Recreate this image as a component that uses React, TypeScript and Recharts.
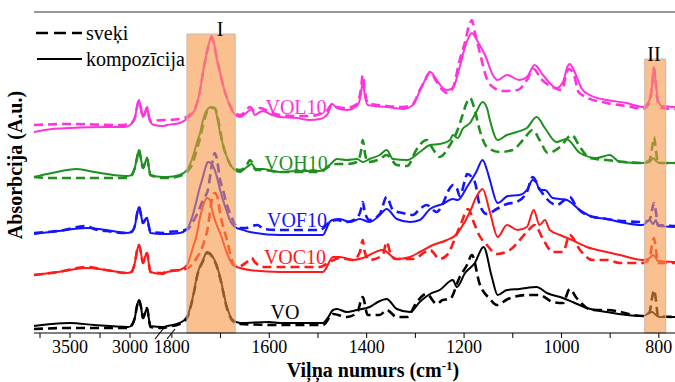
import { LineChart, Line, XAxis, YAxis, ReferenceArea, ReferenceLine } from 'recharts'

type Pt = [number, number] // [wavenumber cm-1, absorbance]

// broken axis: 3800-2725 on the left, 1810-767 on the right
const pos = (wn: number) => (wn >= 2000 ? (3800 - wn) * 0.12 : 133 + (1810 - wn) * 0.487)

const tickWns = [3750, 3500, 3250, 3000, 1800, 1700, 1600, 1500, 1400, 1300, 1200, 1100, 1000, 900, 800]
const tickLabels = ['', '3500', '', '3000', '1800', '', '1600', '', '1400', '', '1200', '', '1000', '', '800']

const volComp: Pt[] = [
  [3800, 2.01], [3650, 2.04], [3500, 2.05], [3200, 2.06], [3050, 2.06], [3000, 2.08], [2960, 2.15], [2940, 2.27],
  [2925, 2.33], [2910, 2.25], [2892, 2.16], [2875, 2.2], [2858, 2.26], [2845, 2.18], [2830, 2.11], [2800, 2.08], [2725, 2.07],
  [1810, 2.08], [1784, 2.1], [1767, 2.15], [1753, 2.23], [1742, 2.43], [1736, 2.61], [1728, 2.81], [1722, 2.93], [1718, 2.97],
  [1714, 2.91], [1708, 2.75], [1701, 2.6], [1695, 2.48], [1687, 2.35], [1681, 2.27], [1673, 2.2], [1660, 2.16], [1650, 2.19],
  [1640, 2.23], [1636, 2.24], [1630, 2.18], [1619, 2.21], [1613, 2.22], [1599, 2.19], [1578, 2.16], [1543, 2.15], [1517, 2.13],
  [1496, 2.14], [1480, 2.19], [1471, 2.29], [1461, 2.25], [1441, 2.23], [1420, 2.27], [1412, 2.38], [1408, 2.51], [1404, 2.38],
  [1398, 2.28], [1359, 2.26], [1326, 2.24], [1305, 2.28], [1291, 2.42], [1280, 2.53], [1270, 2.61], [1256, 2.53], [1244, 2.45],
  [1235, 2.43], [1223, 2.45], [1209, 2.66], [1198, 2.86], [1188, 2.98], [1184, 3.0], [1176, 2.95], [1168, 2.88], [1157, 2.78],
  [1141, 2.58], [1131, 2.53], [1112, 2.58], [1086, 2.53], [1071, 2.56], [1055, 2.68], [1038, 2.58], [1010, 2.45], [997, 2.51],
  [987, 2.67], [983, 2.69], [973, 2.61], [958, 2.44], [942, 2.38], [907, 2.33], [866, 2.3], [833, 2.26], [819, 2.33],
  [814, 2.48], [810, 2.66], [806, 2.48], [802, 2.33], [794, 2.27], [767, 2.26],
]
const volResin: Pt[] = [
  [3800, 2.08], [3500, 2.09], [3100, 2.08], [3000, 2.09], [2960, 2.15], [2940, 2.27], [2925, 2.32], [2910, 2.25], [2892, 2.16],
  [2875, 2.2], [2858, 2.25], [2845, 2.18], [2830, 2.12], [2725, 2.13],
  [1810, 2.13], [1784, 2.14], [1767, 2.17], [1753, 2.24], [1742, 2.43], [1736, 2.61], [1728, 2.81], [1722, 2.92], [1718, 2.95],
  [1714, 2.9], [1708, 2.75], [1701, 2.6], [1695, 2.48], [1687, 2.35], [1681, 2.28], [1673, 2.21], [1660, 2.18], [1650, 2.21],
  [1640, 2.26], [1630, 2.22], [1619, 2.25], [1599, 2.21], [1578, 2.18], [1543, 2.17], [1517, 2.17], [1496, 2.19], [1480, 2.23],
  [1471, 2.29], [1461, 2.26], [1441, 2.25], [1420, 2.29], [1412, 2.43], [1408, 2.58], [1404, 2.43], [1398, 2.3], [1359, 2.27],
  [1326, 2.26], [1305, 2.29], [1291, 2.43], [1280, 2.53], [1270, 2.61], [1256, 2.51], [1244, 2.43], [1235, 2.4], [1223, 2.45],
  [1209, 2.73], [1198, 2.91], [1190, 3.07], [1184, 3.13], [1178, 3.01], [1168, 2.81], [1153, 2.54], [1141, 2.46], [1120, 2.42],
  [1090, 2.43], [1071, 2.53], [1057, 2.64], [1042, 2.54], [1018, 2.46], [999, 2.43], [989, 2.61], [985, 2.64], [975, 2.59],
  [965, 2.41], [950, 2.36], [907, 2.3], [866, 2.27], [833, 2.24], [819, 2.31], [814, 2.47], [810, 2.65], [806, 2.47],
  [802, 2.31], [794, 2.25], [767, 2.24],
]

const vohComp: Pt[] = [
  [3800, 1.56], [3650, 1.6], [3442, 1.64], [3300, 1.61], [3142, 1.58], [3017, 1.57], [2990, 1.58], [2960, 1.65], [2940, 1.76],
  [2925, 1.83], [2910, 1.75], [2892, 1.65], [2875, 1.7], [2858, 1.75], [2845, 1.67], [2830, 1.58], [2725, 1.56],
  [1810, 1.56], [1784, 1.58], [1769, 1.63], [1757, 1.76], [1747, 1.93], [1742, 2.0], [1736, 2.13], [1728, 2.23], [1720, 2.26],
  [1712, 2.25], [1708, 2.18], [1701, 2.0], [1695, 1.88], [1687, 1.76], [1675, 1.65], [1660, 1.61], [1646, 1.66], [1636, 1.69],
  [1628, 1.64], [1613, 1.64], [1578, 1.61], [1543, 1.62], [1496, 1.62], [1476, 1.68], [1461, 1.74], [1441, 1.73], [1420, 1.74],
  [1408, 1.71], [1394, 1.74], [1373, 1.78], [1359, 1.83], [1346, 1.74], [1317, 1.73], [1291, 1.81], [1270, 1.88], [1250, 1.89],
  [1229, 1.93], [1223, 1.98], [1213, 1.95], [1203, 2.04], [1188, 2.1], [1175, 2.21], [1162, 2.31], [1153, 2.25], [1147, 2.13],
  [1131, 1.93], [1112, 1.98], [1092, 2.01], [1071, 2.05], [1051, 2.16], [1034, 2.05], [1010, 1.91], [990, 1.94], [962, 1.8],
  [928, 1.75], [901, 1.78], [880, 1.71], [833, 1.7], [819, 1.71], [812, 1.75], [806, 1.72], [798, 1.7], [767, 1.7],
]
const vohResin: Pt[] = [
  [3800, 1.56], [3650, 1.55], [3300, 1.55], [3017, 1.55], [2990, 1.57], [2960, 1.65], [2940, 1.76], [2925, 1.83], [2910, 1.75],
  [2892, 1.65], [2875, 1.7], [2858, 1.75], [2845, 1.67], [2830, 1.58], [2725, 1.55],
  [1810, 1.55], [1784, 1.57], [1769, 1.61], [1757, 1.7], [1749, 1.83], [1742, 1.95], [1736, 2.08], [1728, 2.21], [1720, 2.25],
  [1712, 2.25], [1708, 2.2], [1701, 2.03], [1695, 1.88], [1687, 1.76], [1675, 1.65], [1660, 1.63], [1646, 1.68], [1640, 1.73],
  [1636, 1.71], [1628, 1.63], [1613, 1.63], [1578, 1.61], [1543, 1.61], [1496, 1.61], [1476, 1.67], [1461, 1.69], [1441, 1.69],
  [1420, 1.71], [1412, 1.81], [1408, 1.93], [1404, 1.81], [1398, 1.71], [1373, 1.74], [1359, 1.78], [1338, 1.68], [1317, 1.67],
  [1297, 1.84], [1277, 1.93], [1264, 1.84], [1250, 1.76], [1229, 1.88], [1215, 2.01], [1205, 2.15], [1194, 2.31], [1188, 2.35],
  [1178, 2.23], [1168, 2.03], [1153, 1.86], [1127, 1.81], [1100, 1.83], [1079, 1.93], [1059, 2.03], [1045, 1.93], [1028, 1.8],
  [1003, 1.86], [979, 1.98], [962, 1.86], [942, 1.75], [907, 1.73], [833, 1.7], [819, 1.73], [814, 1.85], [810, 1.96],
  [806, 1.83], [802, 1.7], [767, 1.7],
]

const vofComp: Pt[] = [
  [3800, 0.99], [3600, 1.02], [3358, 1.05], [3200, 1.03], [3025, 1.0], [2990, 1.01], [2960, 1.07], [2940, 1.2], [2925, 1.26],
  [2910, 1.19], [2892, 1.1], [2875, 1.13], [2858, 1.15], [2845, 1.08], [2830, 1.0], [2725, 0.99],
  [1810, 0.99], [1784, 1.0], [1769, 1.04], [1757, 1.18], [1749, 1.33], [1744, 1.43], [1738, 1.53], [1730, 1.67], [1726, 1.71],
  [1720, 1.7], [1712, 1.63], [1708, 1.57], [1701, 1.43], [1695, 1.33], [1687, 1.21], [1681, 1.13], [1667, 1.05], [1660, 1.04],
  [1640, 1.01], [1578, 0.98], [1490, 0.98], [1476, 1.11], [1471, 1.13], [1455, 1.14], [1435, 1.11], [1414, 1.14], [1394, 1.11],
  [1373, 1.18], [1359, 1.24], [1338, 1.14], [1311, 1.11], [1291, 1.13], [1270, 1.24], [1244, 1.29], [1223, 1.34], [1213, 1.33],
  [1194, 1.46], [1175, 1.61], [1162, 1.73], [1153, 1.63], [1147, 1.53], [1131, 1.3], [1110, 1.37], [1086, 1.38], [1071, 1.43],
  [1059, 1.53], [1051, 1.5], [1045, 1.43], [1034, 1.43], [1018, 1.35], [989, 1.33], [962, 1.23], [936, 1.16], [907, 1.14],
  [880, 1.11], [833, 1.08], [819, 1.13], [812, 1.09], [806, 1.13], [802, 1.07], [767, 1.06],
]
const vofResin: Pt[] = [
  [3800, 1.0], [3600, 1.02], [3358, 1.07], [3300, 1.04], [3200, 1.02], [3025, 1.0], [2990, 1.01], [2960, 1.07], [2940, 1.2],
  [2925, 1.26], [2910, 1.19], [2892, 1.1], [2875, 1.13], [2858, 1.15], [2845, 1.08], [2830, 1.01], [2725, 1.0],
  [1810, 1.01], [1784, 1.02], [1767, 1.04], [1757, 1.11], [1749, 1.18], [1736, 1.33], [1726, 1.43], [1718, 1.68], [1712, 1.8],
  [1708, 1.75], [1701, 1.53], [1695, 1.43], [1687, 1.28], [1681, 1.2], [1673, 1.11], [1665, 1.05], [1650, 1.05], [1625, 1.08],
  [1610, 1.04], [1578, 1.03], [1496, 1.03], [1476, 1.11], [1461, 1.13], [1441, 1.11], [1420, 1.15], [1412, 1.23], [1408, 1.31],
  [1404, 1.21], [1394, 1.13], [1373, 1.19], [1359, 1.36], [1346, 1.23], [1326, 1.2], [1305, 1.18], [1291, 1.24], [1277, 1.28],
  [1256, 1.21], [1244, 1.29], [1229, 1.45], [1223, 1.48], [1215, 1.45], [1209, 1.37], [1198, 1.53], [1194, 1.59], [1178, 1.51],
  [1168, 1.28], [1153, 1.19], [1133, 1.24], [1112, 1.29], [1092, 1.31], [1071, 1.41], [1059, 1.56], [1045, 1.44], [1010, 1.28],
  [983, 1.36], [969, 1.26], [948, 1.18], [907, 1.14], [833, 1.11], [819, 1.13], [814, 1.23], [810, 1.3], [806, 1.21],
  [802, 1.08], [767, 1.07],
]

const vocComp: Pt[] = [
  [3800, 0.58], [3600, 0.61], [3358, 0.65], [3200, 0.63], [3025, 0.6], [2990, 0.61], [2960, 0.7], [2940, 0.83], [2925, 0.88],
  [2910, 0.81], [2892, 0.7], [2875, 0.76], [2858, 0.8], [2845, 0.71], [2830, 0.61], [2725, 0.59],
  [1810, 0.61], [1784, 0.63], [1769, 0.68], [1757, 0.85], [1749, 0.98], [1742, 1.16], [1736, 1.27], [1728, 1.35], [1722, 1.33],
  [1716, 1.2], [1708, 1.08], [1701, 1.0], [1687, 0.8], [1675, 0.68], [1660, 0.65], [1640, 0.63], [1578, 0.61], [1490, 0.61],
  [1469, 0.76], [1455, 0.76], [1428, 0.73], [1408, 0.75], [1367, 0.83], [1338, 0.74], [1311, 0.76], [1291, 0.81], [1264, 0.88],
  [1235, 0.93], [1215, 0.99], [1209, 1.03], [1188, 1.21], [1175, 1.36], [1162, 1.44], [1147, 1.21], [1131, 0.96], [1112, 1.08],
  [1090, 1.03], [1071, 1.06], [1057, 1.23], [1045, 1.08], [1034, 1.13], [1024, 1.03], [1003, 0.98], [983, 0.94], [948, 0.86],
  [907, 0.81], [880, 0.78], [833, 0.73], [819, 0.75], [812, 0.78], [806, 0.75], [802, 0.72], [767, 0.71],
]
const vocResin: Pt[] = [
  [3800, 0.58], [3600, 0.61], [3358, 0.66], [3200, 0.63], [3025, 0.6], [2990, 0.61], [2960, 0.7], [2940, 0.83], [2925, 0.88],
  [2910, 0.81], [2892, 0.7], [2875, 0.76], [2858, 0.8], [2845, 0.71], [2830, 0.61], [2725, 0.6],
  [1810, 0.62], [1784, 0.63], [1767, 0.65], [1749, 0.75], [1736, 0.88], [1726, 1.06], [1718, 1.33], [1712, 1.4], [1706, 1.35],
  [1701, 1.2], [1687, 0.93], [1675, 0.71], [1665, 0.66], [1646, 0.71], [1636, 0.75], [1630, 0.71], [1610, 0.66], [1496, 0.66],
  [1476, 0.71], [1455, 0.75], [1428, 0.73], [1414, 0.81], [1408, 0.93], [1404, 0.81], [1394, 0.73], [1367, 0.78], [1359, 0.91],
  [1350, 0.78], [1340, 0.74], [1305, 0.74], [1270, 0.83], [1250, 0.74], [1235, 0.78], [1215, 0.99], [1205, 1.11], [1192, 1.24],
  [1178, 1.08], [1168, 0.97], [1153, 0.88], [1133, 0.79], [1106, 0.83], [1071, 1.01], [1055, 1.08], [1038, 0.94], [1018, 0.81],
  [997, 0.81], [983, 0.98], [962, 0.83], [936, 0.73], [907, 0.73], [880, 0.7], [833, 0.7], [819, 0.75], [814, 0.88],
  [810, 0.95], [806, 0.83], [802, 0.7], [767, 0.7],
]

const voComp: Pt[] = [
  [3800, 0.07], [3650, 0.09], [3500, 0.1], [3300, 0.08], [3017, 0.06], [2990, 0.07], [2960, 0.15], [2940, 0.28], [2925, 0.33],
  [2910, 0.27], [2892, 0.15], [2875, 0.2], [2858, 0.25], [2845, 0.16], [2830, 0.07], [2725, 0.06],
  [1810, 0.07], [1784, 0.1], [1769, 0.16], [1757, 0.36], [1747, 0.6], [1736, 0.73], [1728, 0.81], [1722, 0.8], [1716, 0.76],
  [1708, 0.68], [1701, 0.56], [1687, 0.26], [1675, 0.13], [1660, 0.1], [1600, 0.11], [1578, 0.1], [1490, 0.1], [1480, 0.15],
  [1469, 0.23], [1461, 0.24], [1441, 0.21], [1420, 0.23], [1394, 0.26], [1377, 0.31], [1359, 0.34], [1338, 0.24], [1311, 0.21],
  [1291, 0.31], [1270, 0.39], [1250, 0.43], [1223, 0.53], [1215, 0.46], [1198, 0.6], [1178, 0.7], [1160, 0.86], [1143, 0.56],
  [1131, 0.38], [1112, 0.43], [1086, 0.44], [1051, 0.46], [1030, 0.4], [997, 0.35], [977, 0.31], [948, 0.25], [907, 0.21],
  [866, 0.18], [833, 0.17], [814, 0.21], [806, 0.18], [798, 0.16], [767, 0.16],
]
const voResin: Pt[] = [
  [3800, 0.04], [3500, 0.05], [3300, 0.05], [3017, 0.05], [2990, 0.07], [2960, 0.15], [2940, 0.28], [2925, 0.33], [2910, 0.27],
  [2892, 0.15], [2875, 0.2], [2858, 0.25], [2845, 0.16], [2830, 0.06], [2725, 0.05],
  [1810, 0.06], [1784, 0.09], [1769, 0.15], [1757, 0.35], [1747, 0.59], [1736, 0.72], [1728, 0.8], [1722, 0.79], [1716, 0.75],
  [1708, 0.67], [1701, 0.55], [1687, 0.25], [1675, 0.12], [1660, 0.09], [1578, 0.08], [1490, 0.08], [1469, 0.19], [1441, 0.16],
  [1420, 0.2], [1408, 0.36], [1398, 0.18], [1373, 0.18], [1359, 0.23], [1338, 0.16], [1317, 0.16], [1297, 0.31], [1277, 0.39],
  [1256, 0.29], [1244, 0.33], [1229, 0.34], [1209, 0.56], [1194, 0.68], [1184, 0.78], [1168, 0.49], [1147, 0.34], [1133, 0.28],
  [1110, 0.34], [1071, 0.38], [1045, 0.38], [1018, 0.31], [997, 0.3], [983, 0.44], [969, 0.35], [936, 0.23], [907, 0.23],
  [833, 0.17], [819, 0.21], [814, 0.35], [810, 0.43], [806, 0.33], [802, 0.17], [767, 0.16],
]

const series = [
  { name: 'VOL10', color: '#ff33dd', comp: volComp, resin: volResin },
  { name: 'VOH10', color: '#1f8f1f', comp: vohComp, resin: vohResin },
  { name: 'VOF10', color: '#1414ff', comp: vofComp, resin: vofResin },
  { name: 'VOC10', color: '#ff1a1a', comp: vocComp, resin: vocResin },
  { name: 'VO', color: '#000000', comp: voComp, resin: voResin },
]

const rows = (pts: Pt[]) => pts.map(([wn, a]) => ({ p: pos(wn), a }))
const tickPos = tickWns.map(pos)
const fmt = (v: number) => tickLabels[tickPos.findIndex((t) => Math.abs(t - v) < 0.01)] ?? ''

const serif = 'Liberation Serif, Tinos, DejaVu Serif, serif'

export default function App() {
  return (
    <div style={{ position: 'absolute', left: 0, top: 0, width: 675, height: 382, background: '#fff', fontFamily: serif }}>
      <LineChart width={675} height={382} margin={{ top: 12, right: 0, left: 34, bottom: 19 }} style={{ fontFamily: serif }}>
        <XAxis
          dataKey="p"
          type="number"
          domain={[0, 641]}
          ticks={tickPos}
          tickFormatter={fmt}
          interval={0}
          tickSize={5}
          height={30}
          stroke="#000"
          tick={{ fill: '#000', fontSize: 18, style: { fontFamily: serif } }}
        />
        <YAxis domain={[0, 3.21]} width={0} tick={false} tickLine={false} stroke="#000" />
        <ReferenceLine y={3.21} stroke="#777" strokeWidth={1.5} />
        {series.map((s) => (
          <Line
            key={s.name + 'r'}
            data={rows(s.resin)}
            dataKey="a"
            type="monotone"
            stroke={s.color}
            strokeWidth={2.6}
            strokeDasharray="9 5"
            dot={false}
            isAnimationActive={false}
          />
        ))}
        {series.map((s) => (
          <Line
            key={s.name + 'c'}
            data={rows(s.comp)}
            dataKey="a"
            type="monotone"
            stroke={s.color}
            strokeWidth={2}
            dot={false}
            isAnimationActive={false}
          />
        ))}
        <ReferenceArea x1={pos(1769)} x2={pos(1670)} y1={0} y2={2.99} fill="#f79646" fillOpacity={0.6} stroke="#c8b8a8" strokeWidth={1} zIndex={450} />
        <ReferenceArea x1={pos(829)} x2={pos(786)} y1={0} y2={2.74} fill="#f79646" fillOpacity={0.6} stroke="#c8b8a8" strokeWidth={1} zIndex={450} />
      </LineChart>
      <svg width={675} height={382} style={{ position: 'absolute', left: 0, top: 0, pointerEvents: 'none', fontFamily: serif }}>
        <g fontSize={20}>
          <line x1={36} y1={33} x2={82} y2={33} stroke="#000" strokeWidth={2.6} strokeDasharray="12 6" />
          <line x1={37} y1={59} x2={82} y2={59} stroke="#000" strokeWidth={2} />
          <text x={86} y={40} fill="#000">sveķi</text>
          <text x={86} y={66} fill="#000">kompozīcija</text>
          <text x={220} y={36} textAnchor="middle" fill="#000">I</text>
          <text x={654} y={61} textAnchor="middle" fill="#000">II</text>
          <text x={296} y={114} textAnchor="middle" fill="#ff33dd">VOL10</text>
          <text x={296} y={170} textAnchor="middle" fill="#1f8f1f">VOH10</text>
          <text x={297} y={227} textAnchor="middle" fill="#1414ff">VOF10</text>
          <text x={295} y={264} textAnchor="middle" fill="#ff1a1a">VOC10</text>
          <text x={285} y={319} textAnchor="middle" fill="#000">VO</text>
          <line x1={155} y1={339} x2={163} y2={329} stroke="#000" strokeWidth={1.2} />
          <line x1={167} y1={339} x2={175} y2={329} stroke="#000" strokeWidth={1.2} />
          <text x={373} y={377} textAnchor="middle" fontWeight="bold" fill="#000">
            Viļņa numurs (cm<tspan dy={-7} fontSize={13}>-1</tspan><tspan dy={7}>)</tspan>
          </text>
          <text x={0} y={0} transform="translate(22,165) rotate(-90)" textAnchor="middle" fontWeight="bold" fill="#000">
            Absorbcija (A.u.)
          </text>
        </g>
      </svg>
    </div>
  )
}
